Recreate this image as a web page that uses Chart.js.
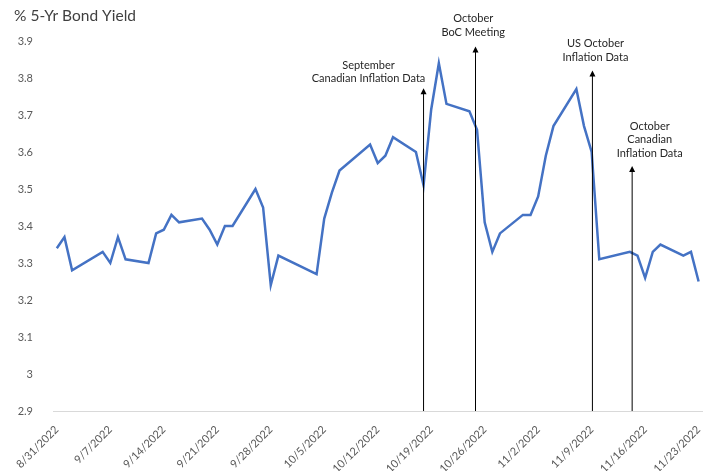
<!DOCTYPE html>
<html>
<head>
<meta charset="utf-8">
<script src="https://cdn.jsdelivr.net/npm/chart.js@4.4.1/dist/chart.umd.min.js"></script>
<style>
  html, body { margin: 0; padding: 0; background: #fff; }
  #wrap { width: 712px; height: 471px; position: relative; }
</style>
</head>
<body>
<div id="wrap"><canvas id="yieldChart"></canvas></div>
<script>
// 5-yr bond yield, daily closes
const dates = [
  '8/31/2022', '9/1/2022', '9/2/2022', '9/6/2022', '9/7/2022', '9/8/2022', '9/9/2022',
  '9/12/2022', '9/13/2022', '9/14/2022', '9/15/2022', '9/16/2022',
  '9/19/2022', '9/20/2022', '9/21/2022', '9/22/2022', '9/23/2022',
  '9/26/2022', '9/27/2022', '9/28/2022', '9/29/2022',
  '10/4/2022', '10/5/2022', '10/6/2022', '10/7/2022',
  '10/11/2022', '10/12/2022', '10/13/2022', '10/14/2022',
  '10/17/2022', '10/18/2022', '10/19/2022', '10/20/2022', '10/21/2022',
  '10/24/2022', '10/25/2022', '10/26/2022', '10/27/2022', '10/28/2022',
  '10/31/2022', '11/1/2022', '11/2/2022', '11/3/2022', '11/4/2022',
  '11/7/2022', '11/8/2022', '11/9/2022', '11/10/2022',
  '11/14/2022', '11/15/2022', '11/16/2022', '11/17/2022', '11/18/2022',
  '11/21/2022', '11/22/2022', '11/23/2022'
];
const yields = [
  3.34, 3.37, 3.28, 3.33, 3.30, 3.37, 3.31,
  3.30, 3.38, 3.39, 3.43, 3.41,
  3.42, 3.39, 3.35, 3.40, 3.40,
  3.50, 3.45, 3.24, 3.32,
  3.27, 3.42, 3.49, 3.55,
  3.62, 3.57, 3.59, 3.64,
  3.60, 3.51, 3.715, 3.84, 3.73,
  3.71, 3.66, 3.41, 3.33, 3.38,
  3.43, 3.43, 3.48, 3.59, 3.67,
  3.77, 3.67, 3.60, 3.31,
  3.33, 3.32, 3.26, 3.33, 3.35,
  3.32, 3.33, 3.25
];
const xTickLabels = [
  '8/31/2022', '9/7/2022', '9/14/2022', '9/21/2022', '9/28/2022', '10/5/2022', '10/12/2022',
  '10/19/2022', '10/26/2022', '11/2/2022', '11/9/2022', '11/16/2022', '11/23/2022'
];

// event markers: text lines, arrow day (from 8/31) and arrow tip value
const noteLines = [
  ['September', 'Canadian Inflation Data'],
  ['October', 'BoC Meeting'],
  ['US October', 'Inflation Data'],
  ['October', 'Canadian', 'Inflation Data']
];
const noteArrowDay = [48, 54.8, 70.1, 75.3];
const noteArrowTip = [3.772, 3.885, 3.82, 3.562];
const noteTextAt = [[40.8, 3.835], [54.5, 3.96], [70.5, 3.893], [77.6, 3.67]];

const dayOf = s => {
  const [m, d, y] = s.split('/').map(Number);
  return Math.round((Date.UTC(y, m - 1, d) - Date.UTC(2022, 7, 31)) / 86400000);
};
const tickDays = xTickLabels.map(dayOf);

const FONT = 'Lato, "Open Sans", sans-serif';

const notesPlugin = {
  id: 'notes',
  afterDatasetsDraw(chart) {
    const { ctx, scales: { x, y } } = chart;
    ctx.save();
    // title
    ctx.fillStyle = '#404040';
    ctx.font = `15.5px ${FONT}`;
    ctx.textAlign = 'left';
    ctx.textBaseline = 'middle';
    ctx.fillText('% 5-Yr Bond Yield', 14, 16);

    noteLines.forEach((lines, i) => {
      const ax = x.getPixelForValue(noteArrowDay[i]);
      const top = y.getPixelForValue(noteArrowTip[i]);
      const bottom = y.getPixelForValue(2.9);
      ctx.strokeStyle = '#000';
      ctx.lineWidth = 1;
      ctx.beginPath();
      ctx.moveTo(ax, bottom);
      ctx.lineTo(ax, top + 4);
      ctx.stroke();
      ctx.fillStyle = '#000';
      ctx.beginPath();
      ctx.moveTo(ax, top);
      ctx.lineTo(ax - 3, top + 6);
      ctx.lineTo(ax + 3, top + 6);
      ctx.closePath();
      ctx.fill();

      const tx = x.getPixelForValue(noteTextAt[i][0]);
      const ty = y.getPixelForValue(noteTextAt[i][1]);
      ctx.fillStyle = '#262626';
      ctx.font = `11px ${FONT}`;
      ctx.textAlign = 'center';
      lines.forEach((t, j) => ctx.fillText(t, tx, ty + j * 13.7));
    });
    ctx.restore();
  }
};

new Chart(document.getElementById('yieldChart'), {
  type: 'line',
  data: {
    datasets: [{
      data: dates.map((d, i) => ({ x: dayOf(d), y: yields[i] })),
      borderColor: '#4472C4',
      borderWidth: 2.5,
      pointRadius: 0,
      tension: 0,
      fill: false
    }]
  },
  options: {
    responsive: true,
    maintainAspectRatio: false,
    animation: false,
    layout: { padding: { top: 41, right: 9, left: 0, bottom: 0 } },
    plugins: { legend: { display: false }, tooltip: { enabled: false } },
    scales: {
      x: {
        type: 'linear',
        min: -0.5,
        max: 84.5,
        afterBuildTicks: s => { s.ticks = tickDays.map(v => ({ value: v })); },
        afterFit: s => { s.height = 60; },
        grid: { display: false },
        border: { display: true, color: '#d9d9d9', width: 1 },
        ticks: {
          autoSkip: false,
          maxRotation: 45,
          minRotation: 45,
          padding: 4,
          color: '#595959',
          font: { family: FONT, size: 11 },
          callback: v => xTickLabels[tickDays.indexOf(v)] || ''
        }
      },
      y: {
        min: 2.9,
        max: 3.9,
        afterFit: s => { s.width = 53; },
        grid: { display: false },
        border: { display: false },
        ticks: {
          stepSize: 0.1,
          padding: 12,
          color: '#595959',
          font: { family: FONT, size: 11 },
          callback: v => String(Math.round(v * 10) / 10)
        }
      }
    }
  },
  plugins: [notesPlugin]
});
</script>
</body>
</html>
